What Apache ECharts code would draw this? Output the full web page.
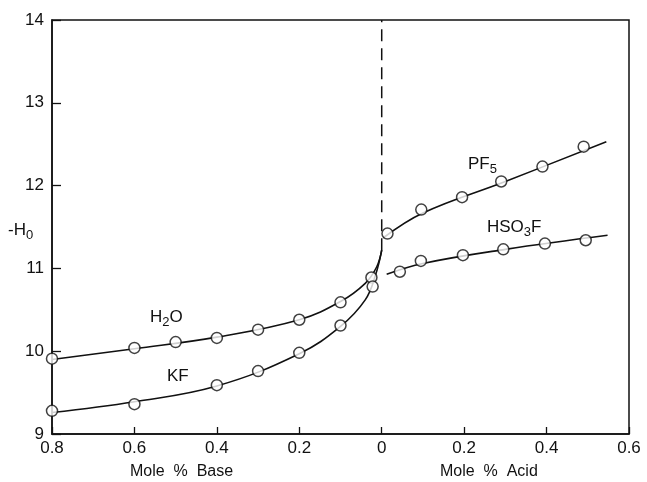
<!DOCTYPE html>
<html>
<head>
<meta charset="utf-8">
<script src="https://cdn.jsdelivr.net/npm/echarts@6/dist/echarts.min.js"></script>
<style>
    html, body { margin: 0; padding: 0; background: #fff; }
    #chart { width: 647px; height: 482px; }
</style>
</head>
<body>
<div id="chart"></div>
<script>
// x < 0 : mole % base (plotted leftwards), x > 0 : mole % acid
const h2oPoints = [[-0.8, 9.91], [-0.6, 10.04], [-0.5, 10.11], [-0.4, 10.16], [-0.3, 10.26], [-0.2, 10.38], [-0.1, 10.59], [-0.025, 10.89]];
const kfPoints = [[-0.8, 9.28], [-0.6, 9.36], [-0.4, 9.59], [-0.3, 9.76], [-0.2, 9.98], [-0.1, 10.31], [-0.022, 10.78]];
const pf5Points = [[0.014, 11.42], [0.096, 11.71], [0.195, 11.86], [0.29, 12.05], [0.39, 12.23], [0.49, 12.47]];
const hso3fPoints = [[0.044, 10.96], [0.095, 11.09], [0.197, 11.16], [0.295, 11.23], [0.396, 11.30], [0.495, 11.34]];

// fitted curves drawn through the points
const h2oCurve = [[-0.8, 9.9], [-0.6, 10.03], [-0.4, 10.17], [-0.2, 10.38], [-0.1, 10.6], [-0.04, 10.82], [-0.012, 11.02], [0, 11.22]];
const kfCurve = [[-0.8, 9.26], [-0.6, 9.39], [-0.4, 9.58], [-0.2, 9.97], [-0.1, 10.3], [-0.04, 10.62], [-0.015, 10.92], [0, 11.22]];
const pf5Curve = [[0.004, 11.37], [0.1, 11.67], [0.3, 12.05], [0.545, 12.53]];
const hso3fCurve = [[0.012, 10.93], [0.1, 11.06], [0.3, 11.23], [0.548, 11.4]];
const dividerLine = [[0, 11.22], [0, 14]];

const xTicks = { min: -0.8, max: 0.6, interval: 0.2 };
const yTicks = { min: 9, max: 14, interval: 1 };

const font = 'Liberation Sans, DejaVu Sans, sans-serif';

const curve = (data) => ({
    type: 'line',
    data: data,
    smooth: 0.4,
    showSymbol: false,
    silent: true,
    z: 2,
    lineStyle: { color: '#111', width: 1.6 }
});

const dots = (data) => ({
    type: 'scatter',
    data: data,
    symbol: 'circle',
    symbolSize: 11,
    z: 3,
    itemStyle: { color: '#fff', borderColor: '#111', borderWidth: 1.5 }
});

const subLabel = (text, left, top) => ({
    type: 'text',
    left: left,
    top: top,
    style: {
        text: text,
        fill: '#111',
        fontFamily: font,
        rich: {
            m: { fontSize: 17, fontFamily: font, lineHeight: 22, verticalAlign: 'middle' },
            s: { fontSize: 13, fontFamily: font, verticalAlign: 'bottom' }
        }
    }
});

let option = {
    backgroundColor: '#fff',
    animation: false,
    grid: {
        left: 52,
        right: 18,
        top: 20,
        bottom: 48,
        show: true,
        borderColor: '#111',
        borderWidth: 1.5
    },
    xAxis: {
        type: 'value',
        min: xTicks.min,
        max: xTicks.max,
        interval: xTicks.interval,
        splitLine: { show: false },
        axisLine: { show: true, onZero: false, lineStyle: { color: '#111', width: 1.5 } },
        axisTick: { show: true, inside: true, length: 7, lineStyle: { color: '#111', width: 1.3 } },
        axisLabel: {
            color: '#111',
            fontSize: 17,
            fontFamily: font,
            margin: 6,
            formatter: (v) => {
                const a = Math.abs(v);
                return a < 1e-6 ? '0' : a.toFixed(1);
            }
        }
    },
    yAxis: {
        type: 'value',
        min: yTicks.min,
        max: yTicks.max,
        interval: yTicks.interval,
        splitLine: { show: false },
        axisLine: { show: true, onZero: false, lineStyle: { color: '#111', width: 1.5 } },
        axisTick: { show: true, inside: true, length: 9, lineStyle: { color: '#111', width: 1.3 } },
        axisLabel: { color: '#111', fontSize: 17, fontFamily: font, margin: 8 }
    },
    graphic: [
        { type: 'text', left: 130, top: 464, style: { text: 'Mole  %  Base', fill: '#111', fontSize: 16, fontFamily: font } },
        { type: 'text', left: 440, top: 464, style: { text: 'Mole  %  Acid', fill: '#111', fontSize: 16, fontFamily: font } },
        subLabel('{m|-H}{s|0}', 8, 222),
        subLabel('{m|PF}{s|5}', 468, 156),
        subLabel('{m|HSO}{s|3}{m|F}', 487, 219),
        subLabel('{m|H}{s|2}{m|O}', 150, 309),
        subLabel('{m|KF}', 167, 368)
    ],
    series: [
        {
            type: 'line',
            data: dividerLine,
            showSymbol: false,
            silent: true,
            z: 1,
            lineStyle: { color: '#111', width: 1.5, type: [12, 7] }
        },
        curve(h2oCurve),
        curve(kfCurve),
        curve(pf5Curve),
        curve(hso3fCurve),
        dots(h2oPoints),
        dots(kfPoints),
        dots(pf5Points),
        dots(hso3fPoints)
    ]
};

const myChart = echarts.init(document.getElementById('chart'), null, { renderer: 'canvas' });
option && myChart.setOption(option);
</script>
</body>
</html>
